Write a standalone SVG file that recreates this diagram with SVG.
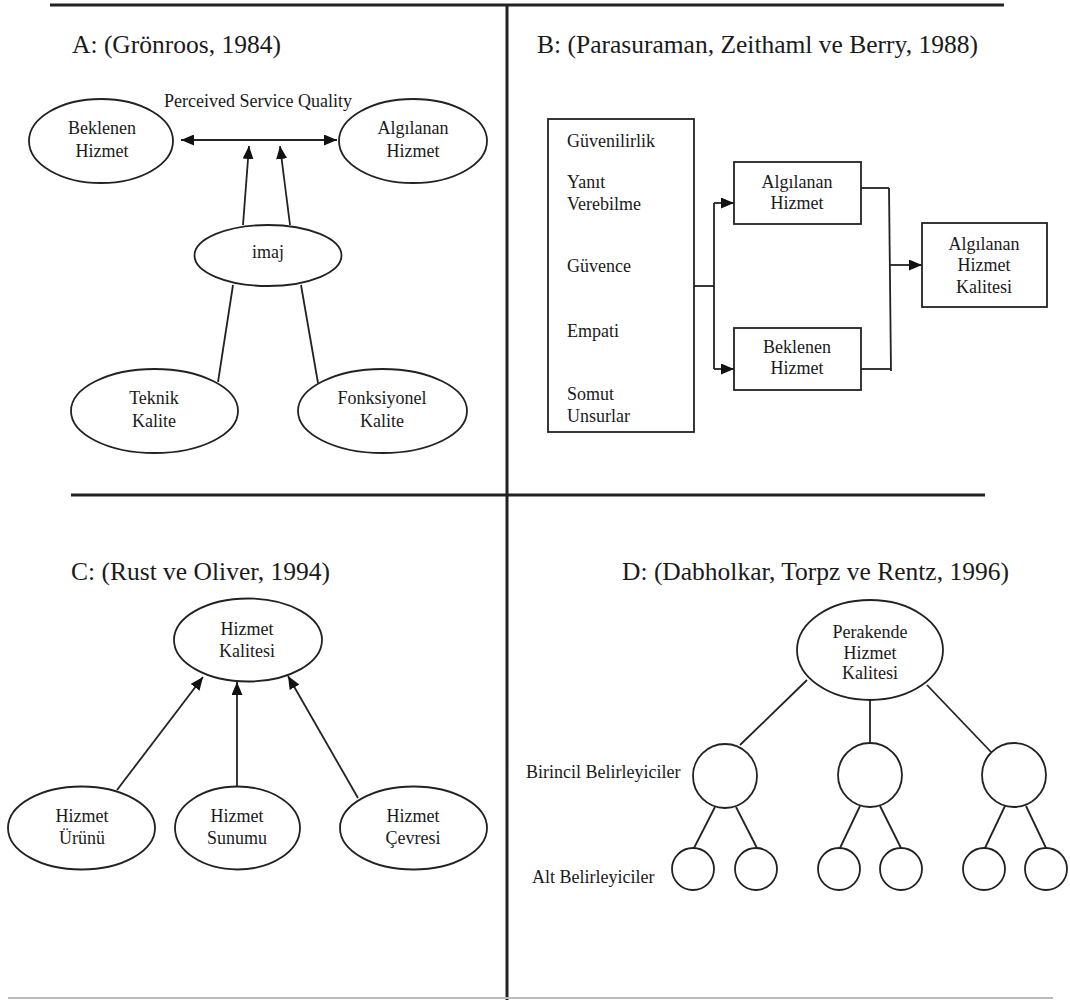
<svg xmlns="http://www.w3.org/2000/svg" width="1070" height="1000" viewBox="0 0 1070 1000">
<defs>
<marker id="ah" markerUnits="userSpaceOnUse" markerWidth="13" markerHeight="11" viewBox="0 0 13 11" refX="13" refY="5.5" orient="auto-start-reverse">
<path d="M0,0 L13,5.5 L0,11 z" fill="#111"/>
</marker>
<style>
text{font-family:"Liberation Serif","Times New Roman",serif;fill:#1a1a1a;}
.t{font-size:25.5px;}
.n{font-size:18px;text-anchor:middle;}
.l{font-size:18px;}
.s{fill:#fff;stroke:#222;stroke-width:1.8;}
.c{stroke:#222;stroke-width:1.8;fill:none;}
.a{stroke:#222;stroke-width:1.8;fill:none;marker-end:url(#ah);}
.d{stroke:#222;stroke-width:3;}
</style>
</defs>
<rect width="1070" height="1000" fill="#fff"/>
<g id="dividers">
<line class="d" x1="50" y1="5" x2="1004" y2="5"/>
<line class="d" x1="507" y1="4" x2="507" y2="1000"/>
<line class="d" x1="71" y1="495" x2="985" y2="495"/>
<line x1="8" y1="998" x2="1053" y2="998" stroke="#bbb" stroke-width="2"/>
</g>
<g id="titles">
<text class="t" x="72" y="53">A: (Grönroos, 1984)</text>
<text class="t" x="537" y="53">B: (Parasuraman, Zeithaml ve Berry, 1988)</text>
<text class="t" x="71" y="580">C: (Rust ve Oliver, 1994)</text>
<text class="t" x="622" y="580">D: (Dabholkar, Torpz ve Rentz, 1996)</text>
</g>
<g id="connectors">
<line class="a" x1="181" y1="140" x2="337" y2="140" marker-start="url(#ah)"/>
<line class="a" x1="243" y1="225" x2="249" y2="146"/>
<line class="a" x1="290" y1="225" x2="280" y2="146"/>
<line class="c" x1="233" y1="285" x2="218" y2="382"/>
<line class="c" x1="301" y1="285" x2="318" y2="383"/>
<polyline class="c" points="694,286 714,286"/>
<line class="c" x1="714" y1="203" x2="714" y2="369"/>
<line class="a" x1="714" y1="203" x2="734" y2="203"/>
<line class="a" x1="714" y1="369" x2="734" y2="369"/>
<line class="c" x1="858" y1="188" x2="889" y2="188"/>
<line class="c" x1="861" y1="369" x2="891" y2="369"/>
<line class="c" x1="889" y1="188" x2="891" y2="371"/>
<line class="a" x1="890" y1="265" x2="922" y2="265"/>
<line class="a" x1="117" y1="790" x2="203" y2="677"/>
<line class="a" x1="237" y1="786" x2="237" y2="682"/>
<line class="a" x1="358" y1="798" x2="288" y2="676"/>
<line class="c" x1="807" y1="680" x2="740" y2="745"/>
<line class="c" x1="870" y1="700" x2="870" y2="743"/>
<line class="c" x1="927" y1="685" x2="992" y2="753"/>
<line class="c" x1="715" y1="807" x2="694" y2="848"/>
<line class="c" x1="736" y1="807" x2="757" y2="848"/>
<line class="c" x1="860" y1="806" x2="840" y2="848"/>
<line class="c" x1="880" y1="806" x2="901" y2="848"/>
<line class="c" x1="1005" y1="806" x2="985" y2="848"/>
<line class="c" x1="1026" y1="806" x2="1046" y2="848"/>
</g>
<g id="a-label"><text class="n" x="258" y="107">Perceived Service Quality</text></g>
<g id="a-beklenen"><ellipse class="s" cx="101" cy="141" rx="72" ry="42"/><text class="n" x="102" y="134">Beklenen</text><text class="n" x="102" y="157">Hizmet</text></g>
<g id="a-algilanan"><ellipse class="s" cx="413" cy="141" rx="74" ry="42"/><text class="n" x="413" y="134">Algılanan</text><text class="n" x="413" y="157">Hizmet</text></g>
<g id="a-imaj"><ellipse class="s" cx="268" cy="255.5" rx="73.5" ry="30.5"/><text class="n" x="268" y="258">imaj</text></g>
<g id="a-teknik"><ellipse class="s" cx="154.5" cy="411" rx="83.5" ry="42"/><text class="n" x="154" y="404">Teknik</text><text class="n" x="154" y="427">Kalite</text></g>
<g id="a-fonksiyonel"><ellipse class="s" cx="382.5" cy="411" rx="84.5" ry="42"/><text class="n" x="382" y="404">Fonksiyonel</text><text class="n" x="382" y="427">Kalite</text></g>
<g id="b-boyutlar"><rect class="s" x="548" y="119" width="146" height="313"/>
<text class="l" x="567" y="147">Güvenilirlik</text>
<text class="l" x="567" y="188">Yanıt</text>
<text class="l" x="567" y="210">Verebilme</text>
<text class="l" x="567" y="272">Güvence</text>
<text class="l" x="567" y="337">Empati</text>
<text class="l" x="567" y="400">Somut</text>
<text class="l" x="567" y="422">Unsurlar</text></g>
<g id="b-algilanan"><rect class="s" x="734" y="162" width="127" height="62"/><text class="n" x="797" y="188">Algılanan</text><text class="n" x="797" y="209">Hizmet</text></g>
<g id="b-beklenen"><rect class="s" x="734" y="328" width="127" height="62"/><text class="n" x="797" y="353">Beklenen</text><text class="n" x="797" y="374">Hizmet</text></g>
<g id="b-kalite"><rect class="s" x="922" y="223" width="125" height="84"/><text class="n" x="984" y="250">Algılanan</text><text class="n" x="984" y="271">Hizmet</text><text class="n" x="984" y="293">Kalitesi</text></g>
<g id="c-kalite"><ellipse class="s" cx="248" cy="640" rx="74" ry="41.5"/><text class="n" x="247" y="635">Hizmet</text><text class="n" x="247" y="657">Kalitesi</text></g>
<g id="c-urunu"><ellipse class="s" cx="81.5" cy="828" rx="73.5" ry="41.5"/><text class="n" x="82" y="822">Hizmet</text><text class="n" x="82" y="844">Ürünü</text></g>
<g id="c-sunumu"><ellipse class="s" cx="237.5" cy="828" rx="62.5" ry="41.5"/><text class="n" x="237" y="822">Hizmet</text><text class="n" x="237" y="844">Sunumu</text></g>
<g id="c-cevresi"><ellipse class="s" cx="413.5" cy="828" rx="73.5" ry="41.5"/><text class="n" x="413" y="822">Hizmet</text><text class="n" x="413" y="844">Çevresi</text></g>
<g id="d-perakende"><ellipse class="s" cx="870" cy="650" rx="73" ry="50"/><text class="n" x="870" y="638">Perakende</text><text class="n" x="870" y="659">Hizmet</text><text class="n" x="870" y="679">Kalitesi</text></g>
<g id="d-labels"><text class="l" x="526" y="778">Birincil Belirleyiciler</text><text class="l" x="532" y="883">Alt Belirleyiciler</text></g>
<g id="d-birincil-1"><circle class="s" cx="725" cy="776" r="32"/></g>
<g id="d-birincil-2"><circle class="s" cx="870" cy="775" r="32"/></g>
<g id="d-birincil-3"><circle class="s" cx="1014" cy="775" r="32"/></g>
<g id="d-alt-1"><circle class="s" cx="693" cy="869" r="21"/></g>
<g id="d-alt-2"><circle class="s" cx="756" cy="869" r="21"/></g>
<g id="d-alt-3"><circle class="s" cx="839" cy="869" r="21"/></g>
<g id="d-alt-4"><circle class="s" cx="901" cy="869" r="21"/></g>
<g id="d-alt-5"><circle class="s" cx="984" cy="869" r="21"/></g>
<g id="d-alt-6"><circle class="s" cx="1046" cy="869" r="21"/></g>
</svg>
